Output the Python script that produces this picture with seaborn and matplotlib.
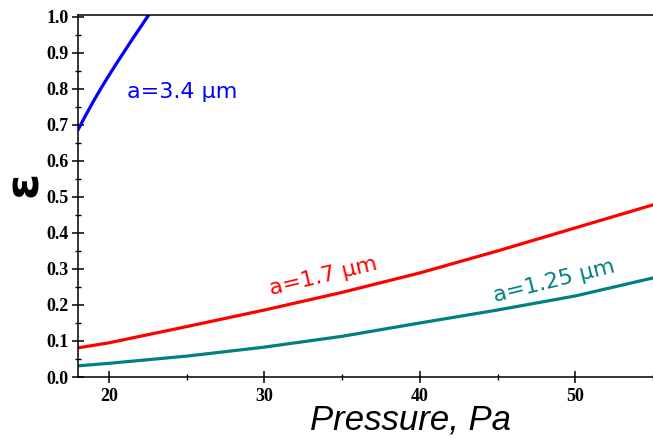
import matplotlib
matplotlib.use("Agg")
import matplotlib.pyplot as plt
import seaborn as sns
import pandas as pd
from matplotlib.ticker import MultipleLocator

sns.set_style("white")
plt.rcParams.update({"text.color": "black", "xtick.color": "black", "ytick.color": "black",
                     "axes.labelcolor": "black"})

# Data
p_34 = [18, 18.5, 19, 19.5, 20, 20.5, 21, 21.5, 22, 22.5, 22.7]
eps_34 = [0.686, 0.727, 0.766, 0.803, 0.838, 0.872, 0.905, 0.938, 0.970, 1.002, 1.014]

p_17 = [18, 20, 25, 30, 35, 40, 45, 50, 55]
eps_17 = [0.081, 0.095, 0.140, 0.186, 0.235, 0.289, 0.350, 0.414, 0.478]

p_125 = [18, 20, 25, 30, 35, 40, 45, 50, 55]
eps_125 = [0.031, 0.038, 0.058, 0.083, 0.113, 0.150, 0.186, 0.225, 0.275]

labels = ["a=3.4 µm", "a=1.7 µm", "a=1.25 µm"]
colors = ["#0000FF", "#FF0000", "#008080"]

df = pd.concat([
    pd.DataFrame({"P": p_34, "eps": eps_34, "s": labels[0]}),
    pd.DataFrame({"P": p_17, "eps": eps_17, "s": labels[1]}),
    pd.DataFrame({"P": p_125, "eps": eps_125, "s": labels[2]}),
])

fig = plt.figure(figsize=(6.53, 4.38), dpi=100)
ax = fig.add_axes([78/653, 1-377/438, 1-78/653, (377-15)/438])

sns.lineplot(data=df, x="P", y="eps", hue="s", palette=dict(zip(labels, colors)),
             linewidth=2.3, legend=False, ax=ax, sort=True)

ax.set_xlim(18, 55)
ax.set_ylim(0, 1.005)

ax.xaxis.set_minor_locator(MultipleLocator(5))
ax.yaxis.set_minor_locator(MultipleLocator(0.05))
ax.set_xticks([20, 30, 40, 50])
ax.set_xticklabels(["20", "30", "40", "50"])
ax.set_yticks([i/10 for i in range(11)])
ax.set_yticklabels([f"{i/10:.1f}" for i in range(11)])

for s in ["left", "bottom", "top"]:
    ax.spines[s].set_color("black")
    ax.spines[s].set_linewidth(1.1)
ax.spines["right"].set_visible(False)

ax.tick_params(which="major", direction="inout", length=8, width=1.1, color="black",
               left=True, bottom=True, labelsize=13, labelcolor="black")
ax.tick_params(which="minor", direction="inout", length=5, width=1.0, color="black",
               left=True, bottom=True)
ax.tick_params(axis="y", pad=3)
ax.tick_params(axis="x", pad=4)
for lab in ax.get_xticklabels() + ax.get_yticklabels():
    lab.set_fontfamily("Liberation Serif")
    lab.set_fontweight("bold")

ax.set_xlabel("")
ax.set_ylabel("")
fig.text(410/653, 1-430/438, "Pressure, Pa", ha="center", va="baseline",
         fontsize=25, fontstyle="italic", fontfamily="Liberation Sans", color="black")
fig.text(24/653, 1-188/438, "ε", ha="center", va="center_baseline", rotation=90,
         fontsize=34, fontweight="bold", fontfamily="DejaVu Sans", color="black")

ax.text(24.7, 0.79, labels[0], color=colors[0], fontsize=16, ha="center", va="center",
        fontfamily="DejaVu Sans")
ax.text(33.8, 0.278, labels[1], color=colors[1], fontsize=16, ha="center", va="center",
        rotation=13.5, fontfamily="DejaVu Sans")
ax.text(48.65, 0.267, labels[2], color=colors[2], fontsize=16, ha="center", va="center",
        rotation=14, fontfamily="DejaVu Sans")

fig.savefig("out.png", dpi=100)
